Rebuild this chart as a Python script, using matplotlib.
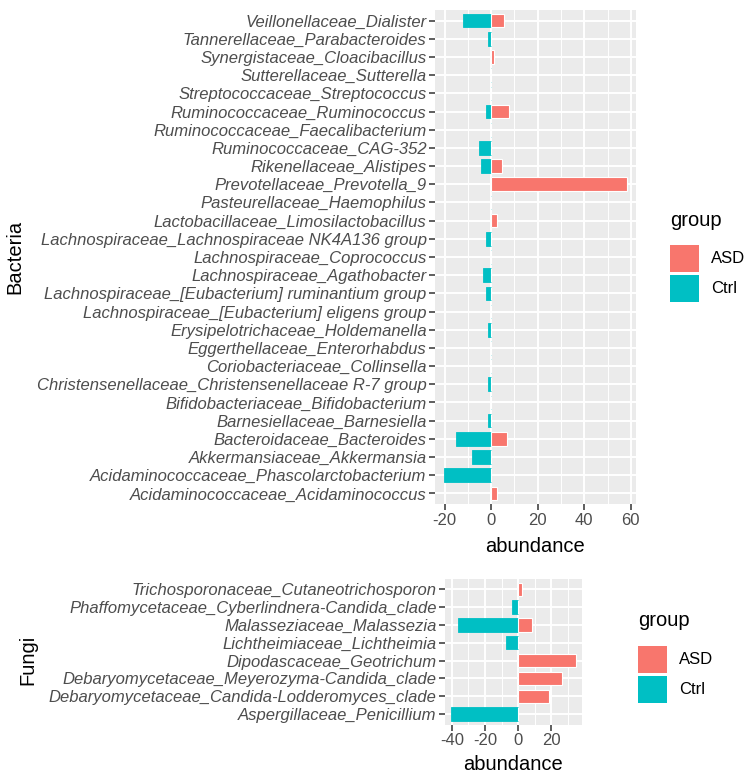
import numpy as np
import matplotlib.pyplot as plt
from matplotlib.patches import Rectangle

# bacteria, listed bottom -> top (ggplot alphabetical order)
bact_taxa = [
    "Acidaminococcaceae_Acidaminococcus",
    "Acidaminococcaceae_Phascolarctobacterium",
    "Akkermansiaceae_Akkermansia",
    "Bacteroidaceae_Bacteroides",
    "Barnesiellaceae_Barnesiella",
    "Bifidobacteriaceae_Bifidobacterium",
    "Christensenellaceae_Christensenellaceae R-7 group",
    "Coriobacteriaceae_Collinsella",
    "Eggerthellaceae_Enterorhabdus",
    "Erysipelotrichaceae_Holdemanella",
    "Lachnospiraceae_[Eubacterium] eligens group",
    "Lachnospiraceae_[Eubacterium] ruminantium group",
    "Lachnospiraceae_Agathobacter",
    "Lachnospiraceae_Coprococcus",
    "Lachnospiraceae_Lachnospiraceae NK4A136 group",
    "Lactobacillaceae_Limosilactobacillus",
    "Pasteurellaceae_Haemophilus",
    "Prevotellaceae_Prevotella_9",
    "Rikenellaceae_Alistipes",
    "Ruminococcaceae_CAG-352",
    "Ruminococcaceae_Faecalibacterium",
    "Ruminococcaceae_Ruminococcus",
    "Streptococcaceae_Streptococcus",
    "Sutterellaceae_Sutterella",
    "Synergistaceae_Cloacibacillus",
    "Tannerellaceae_Parabacteroides",
    "Veillonellaceae_Dialister",
]
bact_asd = [2.7, 0, 0, 6.6, 0, 0, 0, 0, 0, 0, 0, 0, 0, 0, 0, 2.5, 0, 58.3,
            4.6, 0, 0, 7.6, 0, 0, 1.2, 0, 5.6]
bact_ctrl = [0, -20.2, -8.2, -15.3, -1.3, 0, -1.3, 0, 0, -1.3, 0, -2.2, -3.3,
             0, -2.2, 0, 0, 0, -4.2, -5.2, 0, -2.2, 0, 0, 0, -1.3, -12.1]

fungi_taxa = [
    "Aspergillaceae_Penicillium",
    "Debaryomycetaceae_Candida-Lodderomyces_clade",
    "Debaryomycetaceae_Meyerozyma-Candida_clade",
    "Dipodascaceae_Geotrichum",
    "Lichtheimiaceae_Lichtheimia",
    "Malasseziaceae_Malassezia",
    "Phaffomycetaceae_Cyberlindnera-Candida_clade",
    "Trichosporonaceae_Cutaneotrichosporon",
]
fungi_asd = [0, 18.4, 26.3, 35.0, 0, 8.5, 0, 2.6]
fungi_ctrl = [-40.4, 0, 0, 0, -7.5, -36.2, -3.8, 0]

plt.rcParams['font.family'] = ['Liberation Sans', 'DejaVu Sans']

ASD = '#F8766D'
CTRL = '#00BFC4'
W, H = 754, 783

fig = plt.figure(figsize=(W / 100, H / 100), dpi=100)


def px_axes(x0, y0, x1, y1):
    return fig.add_axes([x0 / W, 1 - y1 / H, (x1 - x0) / W, (y1 - y0) / H])


def panel(ax, taxa, asd, ctrl, xticks, xminor):
    n = len(taxa)
    y = np.arange(n)
    ax.set_facecolor('#EBEBEB')
    ax.barh(y, ctrl, height=0.75, color=CTRL, edgecolor=CTRL, linewidth=0.6, zorder=2)
    ax.barh(y, asd, height=0.75, color=ASD, edgecolor='white', linewidth=0.8, zorder=2)
    lo = min(min(ctrl), min(asd))
    hi = max(max(ctrl), max(asd))
    pad = (hi - lo) * 0.05
    ax.set_xlim(lo - pad, hi + pad)
    ax.set_ylim(-0.6, n - 0.4)
    ax.set_yticks(y)
    ax.set_yticklabels(taxa, fontstyle='italic', fontsize=12, color='#4D4D4D')
    ax.set_xticks(xticks)
    ax.set_xticklabels([str(t) for t in xticks], fontsize=12, color='#4D4D4D')
    ax.set_xticks(xminor, minor=True)
    ax.grid(True, which='major', color='white', linewidth=1.4, zorder=0)
    ax.grid(True, which='minor', axis='x', color='white', linewidth=0.7, zorder=0)
    ax.set_axisbelow(True)
    ax.tick_params(which='major', length=4, width=1.1, color='#333333', pad=2)
    ax.tick_params(which='minor', length=0)
    for s in ax.spines.values():
        s.set_visible(False)


def legend(x, y):
    fig.text(x / W, 1 - y / H, 'group', fontsize=14.5, va='center', ha='left')
    for i, (lab, col) in enumerate([('ASD', ASD), ('Ctrl', CTRL)]):
        ky = y + 25 + i * 30
        fig.add_artist(Rectangle((x / W, 1 - (ky + 27) / H), 29 / W, 27 / H,
                                 transform=fig.transFigure, color=col, lw=0))
        fig.text((x + 41) / W, 1 - (ky + 13.5) / H, lab, fontsize=12, va='center', ha='left')


ax1 = px_axes(435, 9.7, 636, 504.3)
panel(ax1, bact_taxa, bact_asd, bact_ctrl, [-20, 0, 20, 40, 60], [-10, 10, 30, 50])
fig.text(535 / W, 1 - 546 / H, 'abundance', fontsize=14.5, ha='center', va='center')
fig.text(15 / W, 1 - 257 / H, 'Bacteria', fontsize=14.5, rotation=90, ha='center', va='center')
legend(670, 220)

ax2 = px_axes(445, 578.6, 582.3, 724.7)
panel(ax2, fungi_taxa, fungi_asd, fungi_ctrl, [-40, -20, 0, 20], [-30, -10, 10, 30])
fig.text(513 / W, 1 - 765 / H, 'abundance', fontsize=14.5, ha='center', va='center')
fig.text(28 / W, 1 - 660 / H, 'Fungi', fontsize=14.5, rotation=90, ha='center', va='center')
legend(638, 621)

fig.savefig('out.png', dpi=100)
